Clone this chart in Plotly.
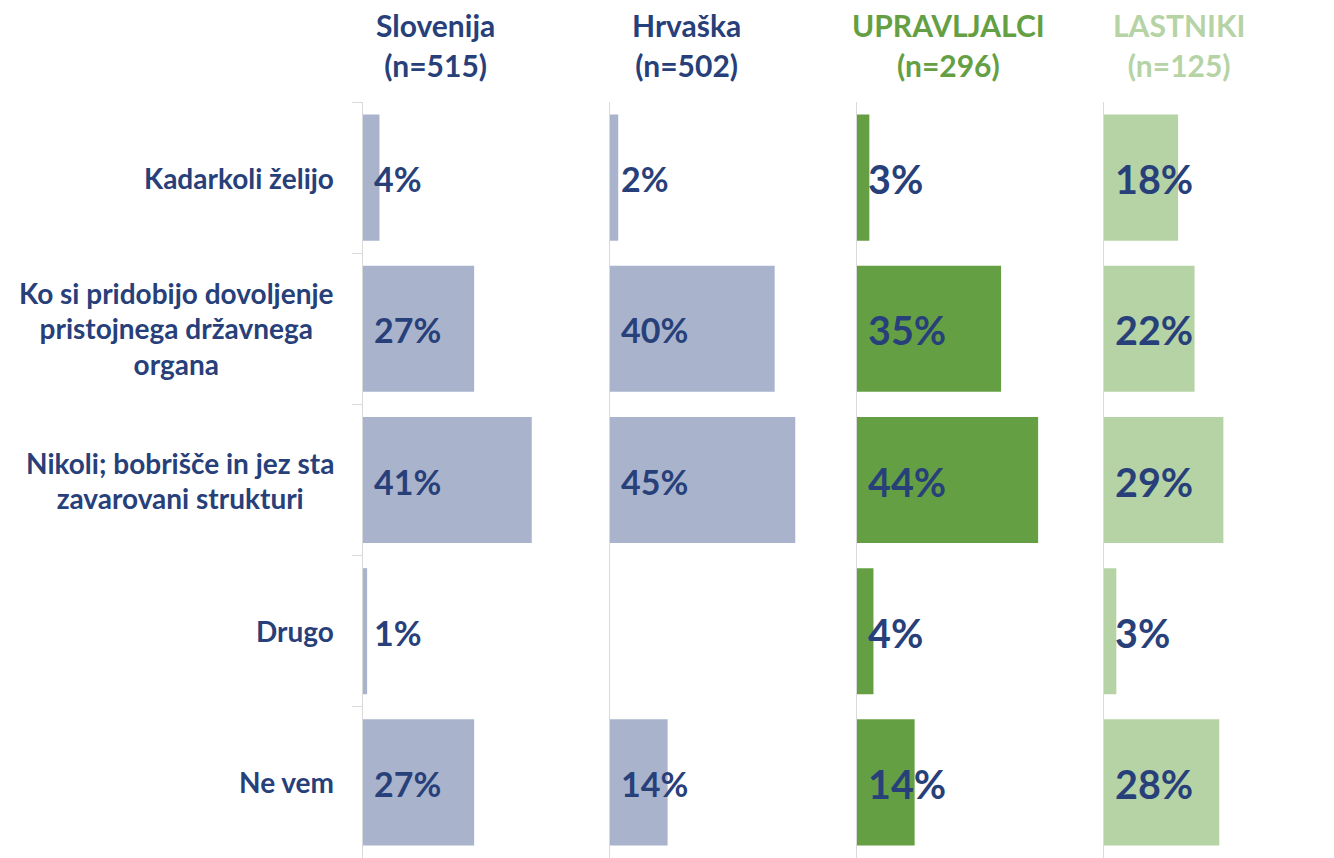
import plotly.graph_objects as go

categories = [
    "Kadarkoli želijo",
    "Ko si pridobijo dovoljenje<br>pristojnega državnega<br>organa",
    "Nikoli; bobrišče in jez sta<br>zavarovani strukturi",
    "Drugo",
    "Ne vem",
]
panel_titles = ["Slovenija", "Hrvaška", "UPRAVLJALCI", "LASTNIKI"]
panel_n = ["(n=515)", "(n=502)", "(n=296)", "(n=125)"]
slovenija = [4, 27, 41, 1, 27]
hrvaska = [2, 40, 45, 0, 14]
upravljalci = [3, 35, 44, 4, 14]
lastniki = [18, 22, 29, 3, 28]
series = [slovenija, hrvaska, upravljalci, lastniki]

bar_colors = ["#a9b4cc", "#a9b4cc", "#64a043", "#b6d3a6"]
title_colors = ["#28407a", "#28407a", "#64a043", "#b6d3a6"]
label_sizes = [34, 34, 39.5, 39.5]
NAVY = "#28407a"
FONT = "Lato"

OFF = 8  # default page body margin
W, H = 1334 - OFF, 858 - OFF
L, T = 363 - OFF, 102 - OFF
plot_w = W - L
plot_h = H - T
panel_px = 247
px_per_pct = panel_px / 60.0

fig = go.Figure()
layout = {}
annotations = []
header_px = [435, 686, 948, 1179]

for i, vals in enumerate(series):
    k = i + 1
    xa = "x" if k == 1 else f"x{k}"
    ya = "y" if k == 1 else f"y{k}"
    fig.add_trace(go.Bar(
        x=vals, y=categories, orientation="h",
        marker=dict(color=bar_colors[i], line=dict(width=0)),
        xaxis=xa, yaxis=ya, showlegend=False, hoverinfo="x+y",
    ))
    x0 = i * panel_px
    x1 = min(x0 + panel_px, plot_w)
    span_pct = (x1 - x0) / px_per_pct
    layout[f"xaxis{k}"] = dict(domain=[x0 / plot_w, x1 / plot_w], range=[0, span_pct],
                               visible=False, anchor=ya, fixedrange=True)
    layout[f"yaxis{k}"] = dict(
        domain=[0, 1], anchor=xa, type="category",
        categoryorder="array", categoryarray=categories,
        range=[4.5, -0.5], showline=True, linecolor="#d9d9d9", linewidth=1,
        ticks="outside" if k == 1 else "", tickson="boundaries", ticklen=10,
        tickcolor="#d9d9d9", showticklabels=False, showgrid=False, zeroline=False,
        fixedrange=True,
    )
    for c, v in zip(categories, vals):
        if v:
            annotations.append(dict(
                x=0, y=c, xref=xa, yref=ya, xanchor="left", yanchor="middle",
                xshift=9, yshift=-1, text=f"{v}%", showarrow=False,
                font=dict(family=FONT, size=label_sizes[i], color=NAVY, weight="bold"),
            ))
    annotations.append(dict(
        x=(header_px[i] - 363) / plot_w, y=1 + (102 - 45) / plot_h, xref="paper", yref="paper",
        xanchor="center", yanchor="middle", showarrow=False, align="center",
        text=f"<span style='font-size:30px'>{panel_titles[i]}</span><br>"
             f"<span style='font-size:30px'>{panel_n[i]}</span>",
        font=dict(family=FONT, size=31, color=title_colors[i], weight="bold"),
    ))

for c in categories:
    lines = c.split("<br>")
    annotations.append(dict(
        x=0, y=c, xref="paper", yref="y", xanchor="right", yanchor="middle",
        xshift=-27, align="center", showarrow=False,
        text="<br>".join(f"<span style='font-size:28px'>{ln}</span>" for ln in lines),
        font=dict(family=FONT, size=27.3, color=NAVY, weight="bold"),
    ))

fig.update_layout(
    **layout,
    width=W, height=H,
    margin=dict(l=L, r=0, t=T, b=0),
    bargap=0.166,
    plot_bgcolor="white", paper_bgcolor="white",
    annotations=annotations,
    font=dict(family=FONT),
)
fig.write_html("out.html", config={"displayModeBar": False})
